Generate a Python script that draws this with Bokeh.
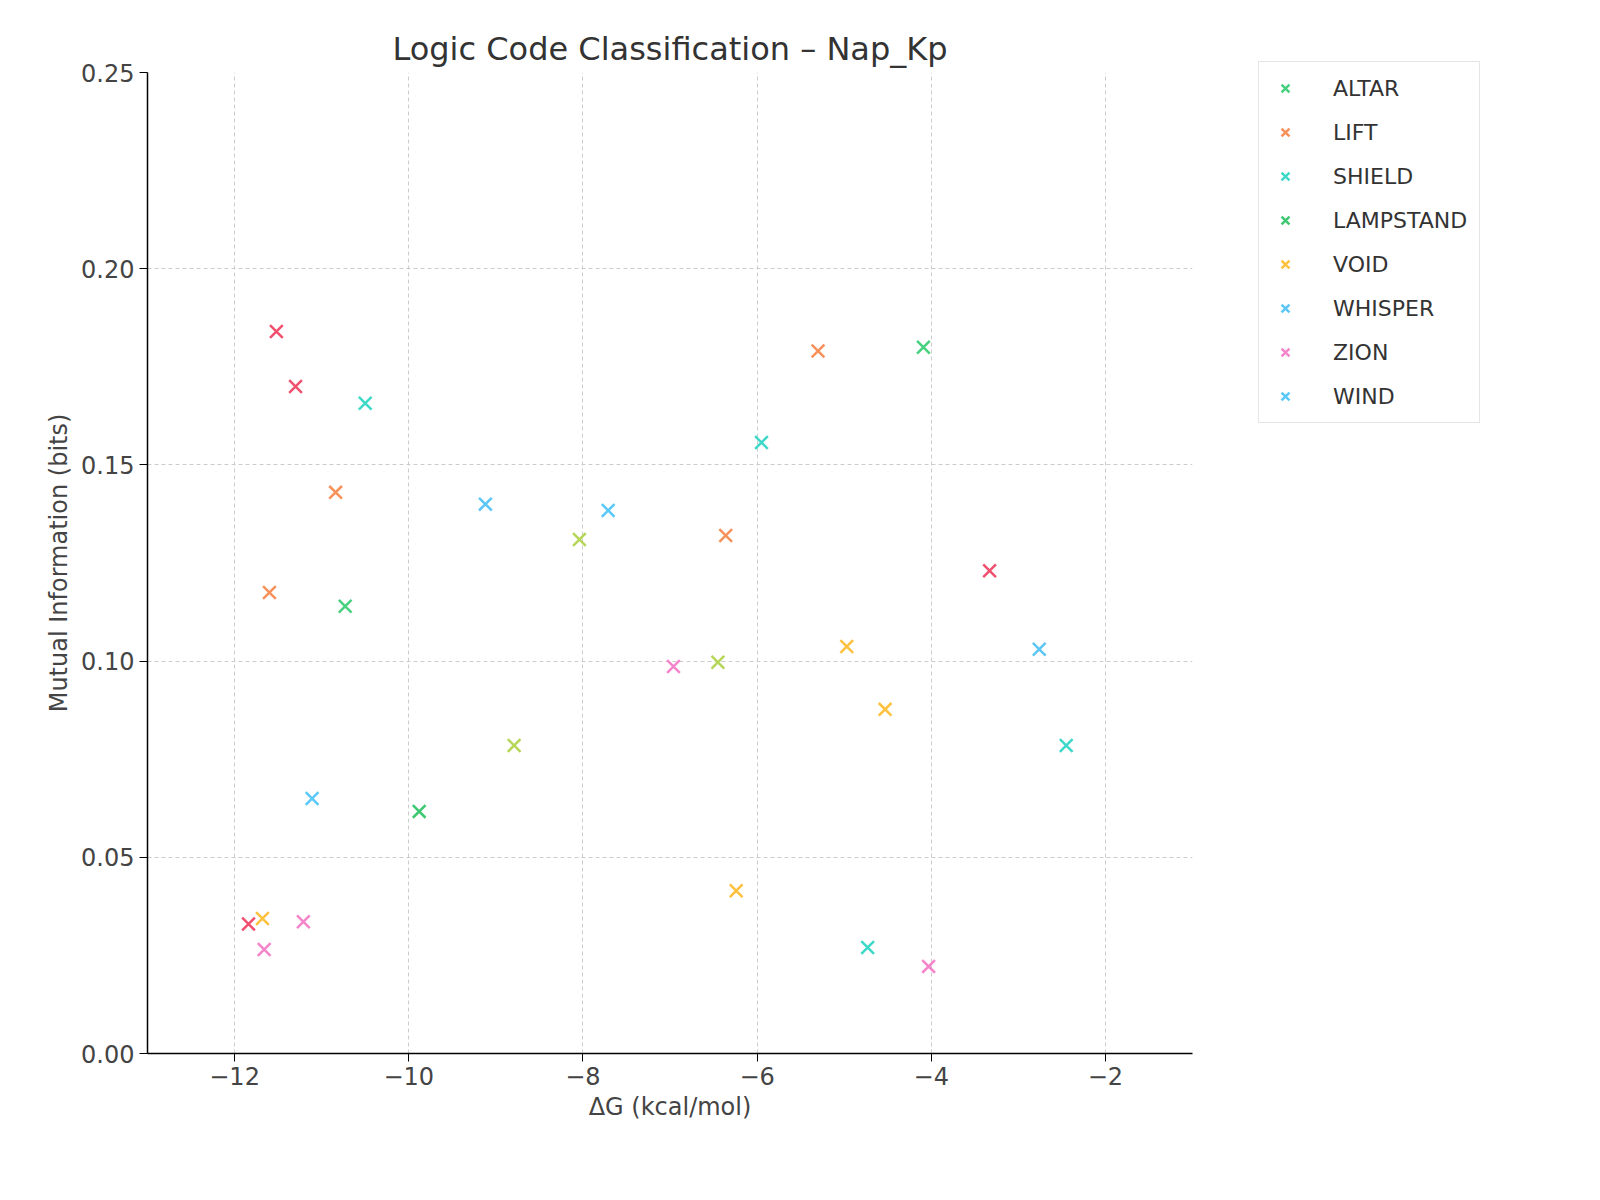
from bokeh.plotting import figure
from bokeh.models import Legend, LegendItem, Range1d, FixedTicker, CustomJSTickFormatter
from bokeh.embed import file_html
from bokeh.resources import INLINE

# series: (dG, MI)
altar_x = [-4.09, -10.73]
altar_y = [0.180, 0.114]
lift_x = [-5.30, -10.84, -11.60, -6.36]
lift_y = [0.179, 0.143, 0.1175, 0.132]
shield_x = [-10.50, -5.95, -2.45, -4.73]
shield_y = [0.1657, 0.1557, 0.0785, 0.027]
lampstand_x = [-9.88]
lampstand_y = [0.0617]
void_x = [-4.97, -4.53, -6.24, -11.68]
void_y = [0.1037, 0.0877, 0.0415, 0.0344]
whisper_x = [-9.12, -2.76]
whisper_y = [0.140, 0.103]
zion_x = [-6.96, -11.21, -11.66, -4.03]
zion_y = [0.0986, 0.0336, 0.0265, 0.0222]
wind_x = [-7.71, -11.11]
wind_y = [0.1384, 0.065]
# groups drawn without a legend entry
other_red_x = [-11.52, -11.30, -3.33, -11.84]
other_red_y = [0.184, 0.170, 0.123, 0.033]
other_lime_x = [-8.04, -6.45, -8.79]
other_lime_y = [0.131, 0.0997, 0.0785]

series = [
    ("ALTAR", altar_x, altar_y, "#47d17f"),
    ("LIFT", lift_x, lift_y, "#f7915a"),
    ("SHIELD", shield_x, shield_y, "#3ed8c8"),
    ("LAMPSTAND", lampstand_x, lampstand_y, "#3ec872"),
    ("VOID", void_x, void_y, "#fdc13d"),
    ("WHISPER", whisper_x, whisper_y, "#5cc6f5"),
    ("ZION", zion_x, zion_y, "#f585cb"),
    ("WIND", wind_x, wind_y, "#5ac8f8"),
]

p = figure(output_backend="svg", toolbar_location=None,
           frame_width=1045, frame_height=981,
           x_range=Range1d(-13, -1), y_range=Range1d(0, 0.25),
           title="Logic Code Classification – Nap_Kp",
           x_axis_label="ΔG (kcal/mol)", y_axis_label="Mutual Information (bits)")
p.min_border_left = 147
p.min_border_top = 72
p.min_border_right = 0
p.title.align = "center"
p.title.text_font = "DejaVu Sans"
p.title.text_font_size = "32px"
p.title.text_font_style = "normal"
p.title.text_color = "#333333"
p.outline_line_color = None

for ax in (p.xaxis, p.yaxis):
    ax.axis_label_text_font = "DejaVu Sans"
    ax.axis_label_text_font_size = "24px"
    ax.axis_label_text_font_style = "normal"
    ax.major_label_text_font = "DejaVu Sans"
    ax.major_label_text_font_size = "24px"
    ax.minor_tick_line_color = None
    ax.axis_line_width = 1.5
    ax.major_tick_out = 8
    ax.major_tick_in = 0
p.xaxis.ticker = FixedTicker(ticks=[-12, -10, -8, -6, -4, -2])
p.yaxis.ticker = FixedTicker(ticks=[0, 0.05, 0.10, 0.15, 0.20, 0.25])
p.yaxis.formatter = CustomJSTickFormatter(code="return tick.toFixed(2);")
p.xaxis.formatter = CustomJSTickFormatter(code="return tick < 0 ? '\u2212' + Math.abs(tick) : tick;")

p.grid.grid_line_dash = "4 3"
p.grid.grid_line_color = "#cccccc"

p.scatter(other_red_x, other_red_y, marker="x", size=18, line_width=2.5, color="#f0506e")
p.scatter(other_lime_x, other_lime_y, marker="x", size=18, line_width=2.5, color="#b5d656")

items = []
for name, xs, ys, col in series:
    r = p.scatter(xs, ys, marker="x", size=18, line_width=2.5, color=col)
    items.append(LegendItem(label=name, renderers=[r]))

legend = Legend(items=items, location=(66, 630), margin=0, padding=12, spacing=16,
                label_text_font="DejaVu Sans", label_text_font_size="22px",
                label_text_color="#333333", glyph_width=28, glyph_height=28,
                label_standoff=34, border_line_color="#cccccc", border_line_width=1.5)
p.add_layout(legend, "right")

open("out.html", "w").write(file_html(p, INLINE))
